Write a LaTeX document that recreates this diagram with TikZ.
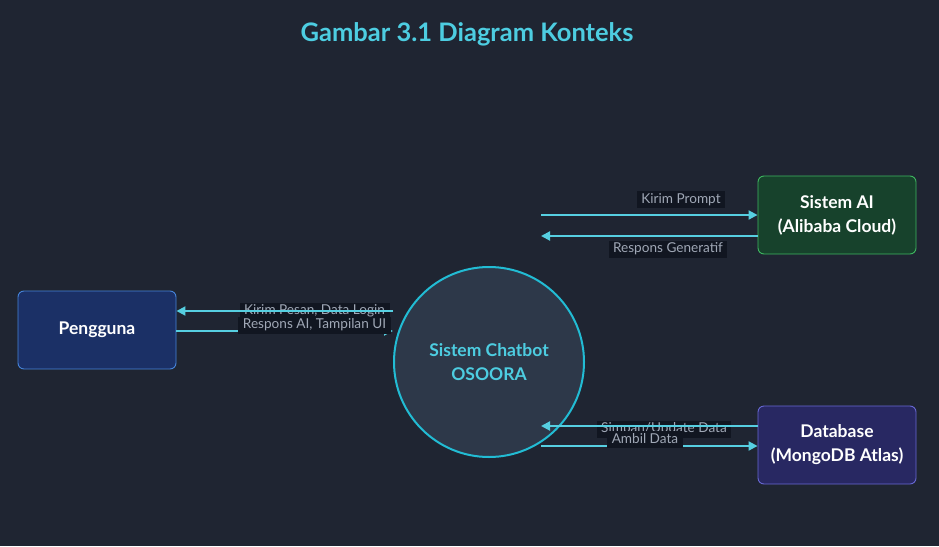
\documentclass[tikz,border=0pt]{standalone}
\usepackage{fontspec}
\setmainfont{Lato}
\usetikzlibrary{arrows.meta}
\definecolor{bgc}{RGB}{31,37,50}
\definecolor{cyanl}{RGB}{86,207,225}
\definecolor{titlec}{RGB}{77,205,225}
\definecolor{circfill}{RGB}{45,56,73}
\definecolor{circdraw}{RGB}{34,188,212}
\definecolor{pfill}{RGB}{27,48,102}
\definecolor{pdraw}{RGB}{70,132,218}
\definecolor{aifill}{RGB}{23,66,44}
\definecolor{aidraw}{RGB}{62,184,96}
\definecolor{dbfill}{RGB}{40,40,98}
\definecolor{dbdraw}{RGB}{104,104,212}
\definecolor{lblbg}{RGB}{17,22,33}
\definecolor{lbltxt}{RGB}{160,168,182}
\tikzset{
  entity/.style={rounded corners=6pt, line width=0.9pt, minimum width=158pt, minimum height=78pt, align=center, text=white, font=\fontsize{17.5}{24}\selectfont\bfseries},
  flow/.style={draw=cyanl, line width=2pt, -{Triangle[length=9pt,width=9pt]}},
  lbl/.style={fill=lblbg, text=lbltxt, font=\fontsize{13.6}{14}\selectfont, inner xsep=4.5pt, inner ysep=2pt, minimum height=17pt},
}
\begin{document}
\begin{tikzpicture}[x=1pt,y=-1pt]
\fill[bgc] (0,0) rectangle (939,546);
\useasboundingbox (0,0) rectangle (939,546);
\node[text=titlec, font=\fontsize{25.5}{28}\selectfont\bfseries] (title) at (467,34) {Gambar 3.1 Diagram Konteks};
\node[circle, fill=circfill, draw=circdraw, line width=2pt, minimum size=190pt, align=center, text=titlec, font=\fontsize{17.5}{24}\selectfont\bfseries] (sys) at (489,362) {Sistem Chatbot\\OSOORA};
\node[entity, fill=pfill, draw=pdraw] (user) at (97,330) {Pengguna};
\node[entity, fill=aifill, draw=aidraw] (ai) at (837,215) {Sistem AI\\(Alibaba Cloud)};
\node[entity, fill=dbfill, draw=dbdraw] (db) at (837,445) {Database\\(MongoDB Atlas)};
% coordinates
\coordinate (u1) at (393,311);
\coordinate (u2) at (393,331);
\coordinate (a1) at (541,215);
\coordinate (a2) at (541,236);
\coordinate (d1) at (541,426);
\coordinate (d2) at (541,446);
% Pengguna flows
\node[lbl] (lu1) at (314.5,311) {Kirim Pesan, Data Login};
\draw[flow] (u1) -- (user.east |- u1);
\draw[flow] (user.east |- u2) -- (u2);
\node[lbl] (lu2) at (314.5,325) {Respons AI, Tampilan UI};
% AI flows
\draw[flow] (a1) -- (ai.west |- a1);
\draw[flow] (ai.west |- a2) -- (a2);
\node[lbl] (la1) at (681,199.5) {Kirim Prompt};
\node[lbl] (la2) at (668,249) {Respons Generatif};
% DB flows
\node[lbl] (ld1) at (664,429) {Simpan/Update Data};
\draw[flow] (db.west |- d1) -- (d1);
\draw[flow] (d2) -- (db.west |- d2);
\node[lbl] (ld2) at (645,439) {Ambil Data};
\end{tikzpicture}
\end{document}
